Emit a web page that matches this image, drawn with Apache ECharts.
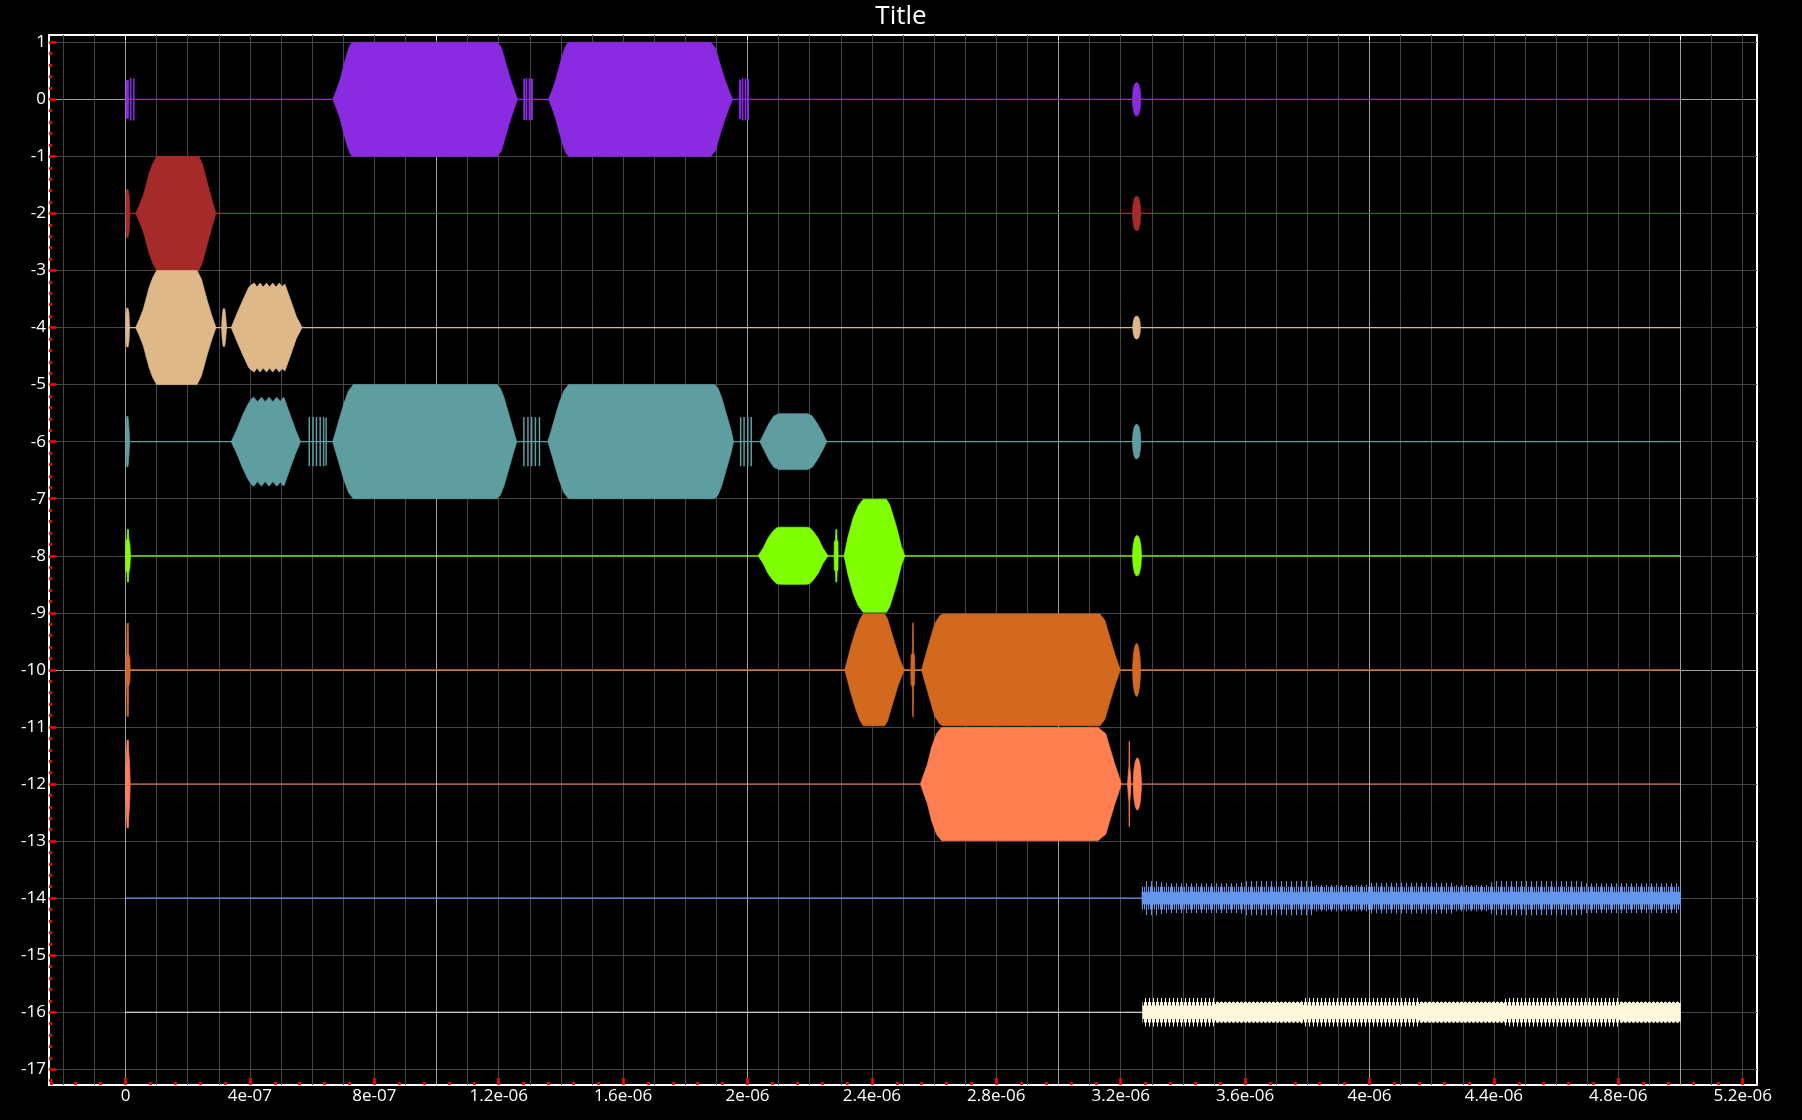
<!DOCTYPE html>
<html>
<head>
<meta charset="utf-8">
<script src="https://cdn.jsdelivr.net/npm/echarts@6/dist/echarts.min.js"></script>
<style>
html,body{margin:0;padding:0;background:#000;}
#chart{width:1802px;height:1120px;}
</style>
</head>
<body>
<div id="chart"></div>
<script>
// ---------------- DATA (x in microseconds, amplitudes in y units) ----------------
const xTickValues = [0, 0.4, 0.8, 1.2, 1.6, 2.0, 2.4, 2.8, 3.2, 3.6, 4.0, 4.4, 4.8, 5.2];
const xTickLabels = ['0', '4e-07', '8e-07', '1.2e-06', '1.6e-06', '2e-06', '2.4e-06', '2.8e-06', '3.2e-06', '3.6e-06', '4e-06', '4.4e-06', '4.8e-06', '5.2e-06'];
const yTickValues = [1, 0, -1, -2, -3, -4, -5, -6, -7, -8, -9, -10, -11, -12, -13, -14, -15, -16, -17];
const yTickLabels = ['1', '0', '-1', '-2', '-3', '-4', '-5', '-6', '-7', '-8', '-9', '-10', '-11', '-12', '-13', '-14', '-15', '-16', '-17'];
const xBrightLines = [0, 1, 2, 3, 4, 5];
const yBrightLines = [0, -10];

const traceNames = ['blueviolet', 'brown', 'burlywood', 'cadetblue', 'chartreuse', 'chocolate', 'coral', 'cornflowerblue', 'cornsilk'];
const traceColors = ['#8A2BE2', '#A52A2A', '#DEB887', '#5F9EA0', '#7FFF00', '#D2691E', '#FF7F50', '#6495ED', '#FFF8DC'];
const traceBaselines = [0, -2, -4, -6, -8, -10, -12, -14, -16];
const traceStart = 0;
const traceEnd = 5;

// envelopes of bursts: [x, amplitude] points
const purpleBursts = [
  [[0.001,0],[0.0015,0.33],[0.0095,0.33],[0.010,0]],
  [[0.6666,0],[0.678,0.16],[0.690,0.34],[0.703,0.62],[0.715,0.85],[0.723,0.96],[0.730,1.0],[1.1955,1.0],[1.209,0.9],[1.222,0.65],[1.239,0.34],[1.250,0.16],[1.261,0]],
  [[1.360,0],[1.372,0.16],[1.383,0.34],[1.397,0.62],[1.409,0.85],[1.418,0.96],[1.426,1.0],[1.882,1.0],[1.897,0.9],[1.910,0.65],[1.928,0.34],[1.940,0.16],[1.952,0]],
  [[1.973,0],[1.9735,0.34],[1.9785,0.34],[1.979,0]],
  [[3.2375,0],[3.2395,0.15],[3.2435,0.25],[3.2485,0.29],[3.254,0.29],[3.259,0.25],[3.263,0.15],[3.265,0]]
];
const purpleSpikes = [[0.017,0.37],[0.027,0.37],[1.2815,0.36],[1.2835,0.36],[1.2895,0.37],[1.2985,0.37],[1.3055,0.36],[1.3075,0.36],[1.9845,0.37],[1.9935,0.37],[2.0005,0.36],[2.0025,0.36]];

const brownBursts = [
  [[0.001,0],[0.002,0.3],[0.004,0.42],[0.008,0.42],[0.012,0.3],[0.014,0]],
  [[0.0327,0],[0.045,0.15],[0.0573,0.32],[0.0758,0.70],[0.088,0.88],[0.1003,1.0],[0.2357,1.0],[0.248,0.85],[0.2665,0.47],[0.280,0.2],[0.291,0]],
  [[3.2375,0],[3.2395,0.15],[3.2435,0.26],[3.2485,0.30],[3.254,0.30],[3.259,0.26],[3.263,0.15],[3.265,0]]
];

const burlywoodBursts = [
  [[0.001,0],[0.002,0.25],[0.004,0.34],[0.008,0.34],[0.011,0.25],[0.013,0]],
  [[0.0327,0],[0.045,0.15],[0.0573,0.32],[0.0758,0.70],[0.088,0.88],[0.1003,1.0],[0.230,1.0],[0.244,0.85],[0.263,0.47],[0.278,0.2],[0.291,0]],
  [[0.309,0],[0.311,0.2],[0.314,0.33],[0.319,0.33],[0.322,0.2],[0.325,0]],
  [[0.340,0],[0.3588,0.25],[0.3772,0.48],[0.3958,0.70],[0.405,0.75],[0.4141,0.78],[0.423,0.71],[0.4325,0.78],[0.443,0.71],[0.4534,0.78],[0.463,0.71],[0.4733,0.78],[0.484,0.71],[0.4942,0.78],[0.503,0.72],[0.5126,0.76],[0.531,0.48],[0.5495,0.19],[0.568,0]],
  [[3.2385,0],[3.2405,0.1],[3.244,0.17],[3.2485,0.2],[3.254,0.2],[3.2585,0.17],[3.262,0.1],[3.2635,0]]
];

const cadetblueBursts = [
  [[0.000,0],[0.0015,0.2],[0.004,0.44],[0.008,0.44],[0.0115,0.2],[0.013,0]],
  [[0.340,0],[0.3588,0.22],[0.3772,0.47],[0.394,0.66],[0.405,0.75],[0.4125,0.78],[0.4245,0.70],[0.437,0.78],[0.449,0.70],[0.4617,0.78],[0.474,0.70],[0.486,0.78],[0.498,0.71],[0.509,0.78],[0.532,0.43],[0.548,0.19],[0.563,0]],
  [[0.666,0],[0.676,0.18],[0.686,0.37],[0.7016,0.66],[0.717,0.89],[0.7325,1.0],[1.1936,1.0],[1.205,0.94],[1.2167,0.78],[1.2322,0.49],[1.2476,0.19],[1.258,0]],
  [[1.358,0],[1.368,0.18],[1.378,0.37],[1.3935,0.66],[1.409,0.89],[1.4245,1.0],[1.893,1.0],[1.905,0.94],[1.9165,0.78],[1.932,0.49],[1.9475,0.19],[1.955,0]],
  [[2.040,0],[2.055,0.17],[2.070,0.33],[2.085,0.45],[2.101,0.49],[2.193,0.49],[2.208,0.45],[2.223,0.33],[2.240,0.17],[2.255,0]],
  [[3.2375,0],[3.2395,0.15],[3.2435,0.26],[3.2485,0.30],[3.254,0.30],[3.259,0.26],[3.263,0.15],[3.265,0]]
];
const cadetblueSpikes = [[0.591,0.43],[0.603,0.43],[0.614,0.43],[0.626,0.43],[0.637,0.43],[0.645,0.42],[1.281,0.43],[1.294,0.43],[1.306,0.43],[1.318,0.43],[1.331,0.43],[1.978,0.43],[1.989,0.43],[2.001,0.43],[2.012,0.43]];

const chartreuseBursts = [
  [[0.001,0],[0.0015,0.25],[0.005,0.3],[0.006,0.46],[0.0095,0.46],[0.0105,0.3],[0.014,0.2],[0.016,0]],
  [[2.034,0],[2.050,0.13],[2.066,0.31],[2.082,0.43],[2.094,0.49],[2.104,0.50],[2.190,0.50],[2.200,0.49],[2.211,0.43],[2.227,0.31],[2.243,0.13],[2.259,0]],
  [[2.2785,0],[2.279,0.24],[2.283,0.28],[2.284,0.46],[2.287,0.46],[2.288,0.28],[2.291,0.24],[2.2914,0]],
  [[2.3106,0],[2.3235,0.34],[2.3396,0.66],[2.3556,0.87],[2.3717,0.99],[2.447,0.99],[2.4576,0.89],[2.479,0.51],[2.4952,0.16],[2.5058,0]],
  [[3.238,0],[3.240,0.18],[3.2445,0.3],[3.2495,0.35],[3.2555,0.35],[3.2605,0.3],[3.265,0.18],[3.267,0]]
];

const chocolateBursts = [
  [[0.001,0],[0.0015,0.2],[0.004,0.3],[0.005,0.81],[0.009,0.82],[0.010,0.3],[0.014,0.2],[0.015,0]],
  [[2.3129,0],[2.332,0.4],[2.348,0.69],[2.361,0.88],[2.372,0.98],[2.441,0.98],[2.450,0.9],[2.463,0.66],[2.484,0.28],[2.500,0.05],[2.506,0]],
  [[2.525,0],[2.526,0.25],[2.530,0.3],[2.531,0.8],[2.533,0.83],[2.534,0.3],[2.537,0.25],[2.538,0]],
  [[2.5595,0],[2.586,0.51],[2.602,0.81],[2.618,0.95],[2.629,0.98],[3.133,0.98],[3.149,0.87],[3.165,0.57],[3.181,0.28],[3.199,0]],
  [[3.238,0],[3.240,0.23],[3.244,0.39],[3.249,0.46],[3.2535,0.46],[3.258,0.39],[3.262,0.23],[3.264,0]]
];

const coralBursts = [
  [[0.001,0],[0.0015,0.3],[0.003,0.52],[0.005,0.77],[0.009,0.77],[0.011,0.52],[0.0135,0.3],[0.015,0]],
  [[2.556,0],[2.5787,0.35],[2.5916,0.64],[2.6077,0.88],[2.6238,0.99],[3.1274,0.99],[3.152,0.88],[3.165,0.64],[3.181,0.35],[3.2025,0]],
  [[3.222,0],[3.2245,0.2],[3.2265,0.3],[3.227,0.73],[3.2285,0.75],[3.229,0.3],[3.231,0.2],[3.233,0]],
  [[3.240,0],[3.242,0.22],[3.246,0.38],[3.251,0.45],[3.256,0.45],[3.261,0.38],[3.265,0.22],[3.267,0]]
];

// dense oscillation bands: tall-spike, mid-spike and solid-core envelopes
const cornflowerOuter = [[3.268,0.30],[3.328,0.30],[3.335,0.26],[3.585,0.26],[3.595,0.30],[3.815,0.30],[3.825,0.23],[3.99,0.23],[4.0,0.27],[4.265,0.27],[4.275,0.23],[4.385,0.23],[4.395,0.30],[4.68,0.30],[4.69,0.26],[5.0,0.26]];
const cornflowerMid = [[3.268,0.20],[5.0,0.20]];
const cornflowerCore = [[3.268,0.11],[5.0,0.11]];
const cornsilkOuter = [[3.27,0.25],[3.498,0.25],[3.51,0.19],[3.78,0.19],[3.79,0.25],[4.155,0.25],[4.165,0.19],[4.43,0.19],[4.44,0.25],[4.80,0.25],[4.81,0.19],[5.0,0.19]];
const cornsilkMid = [[3.27,0.18],[5.0,0.18]];
const cornsilkCore = [[3.27,0.12],[3.498,0.12],[3.51,0.16],[3.78,0.16],[3.79,0.12],[4.155,0.12],[4.165,0.16],[4.43,0.16],[4.44,0.12],[4.80,0.12],[4.81,0.16],[5.0,0.16]];

const traceBursts = [purpleBursts, brownBursts, burlywoodBursts, cadetblueBursts, chartreuseBursts, chocolateBursts, coralBursts, null, null];
const traceSpikes = [purpleSpikes, null, null, cadetblueSpikes, null, null, null, null, null];
const traceBands = [null, null, null, null, null, null, null, [cornflowerOuter, cornflowerMid, cornflowerCore], [cornsilkOuter, cornsilkMid, cornsilkCore]];

// ---------------- AXIS HELPERS ----------------
const X_MIN = -0.246, X_MAX = 5.246;
const Y_MIN = -17.275, Y_MAX = 1.127;
const xMinorTicks = [];
for (let i = -3; i <= 65; i++) if (i % 5 !== 0) xMinorTicks.push(Math.round(i * 0.08 * 1e6) / 1e6);
const xGridLines = [];
for (let i = -2; i <= 52; i++) xGridLines.push(Math.round(i * 0.1 * 1e6) / 1e6);
const yMinorTicks = [];
for (let i = -86; i <= 5; i++) if (i % 5 !== 0) yMinorTicks.push(Math.round(i * 0.2 * 1e6) / 1e6);

function lookup(values, labels) {
  return function (v) {
    for (let i = 0; i < values.length; i++) if (Math.abs(values[i] - v) < 1e-6) return labels[i];
    return '';
  };
}

const FONT = 'Open Sans';
const RED = '#ff0000';
const DIM = '#464646';
const BRIGHT = '#a0a0a0';

function baseX(extra) {
  return Object.assign({
    type: 'value', min: X_MIN, max: X_MAX, position: 'bottom',
    axisLine: { show: false, onZero: false },
    axisLabel: { show: false },
    axisTick: { show: false },
    splitLine: { show: false }
  }, extra);
}
function baseY(extra) {
  return Object.assign({
    type: 'value', min: Y_MIN, max: Y_MAX, position: 'left',
    axisLine: { show: false, onZero: false },
    axisLabel: { show: false },
    axisTick: { show: false },
    splitLine: { show: false }
  }, extra);
}

const xAxes = [
  baseX({
    axisTick: { show: true, inside: true, length: 7, customValues: xTickValues, lineStyle: { color: RED, width: 2.7 } },
    axisLabel: { show: true, customValues: xTickValues, formatter: lookup(xTickValues, xTickLabels), color: '#ffffff', fontSize: 17, fontFamily: FONT, margin: 3 }
  }),
  baseX({ axisTick: { show: true, inside: true, length: 3, customValues: xMinorTicks, lineStyle: { color: RED, width: 2.7 } } }),
  baseX({ axisTick: { show: false, customValues: xGridLines }, splitLine: { show: true, lineStyle: { color: DIM, width: 1 } } }),
  baseX({ position: 'top', axisTick: { show: true, inside: true, length: 5, customValues: xBrightLines, lineStyle: { color: '#ffffff', width: 1 } }, splitLine: { show: true, lineStyle: { color: BRIGHT, width: 1 } } })
];
const yAxes = [
  baseY({
    axisTick: { show: true, inside: true, length: 7, customValues: yTickValues, lineStyle: { color: RED, width: 2.7 } },
    axisLabel: { show: true, customValues: yTickValues, formatter: lookup(yTickValues, yTickLabels), color: '#ffffff', fontSize: 17, fontFamily: FONT, margin: 3 },
    splitLine: { show: true, lineStyle: { color: DIM, width: 1 } }
  }),
  baseY({ axisTick: { show: true, inside: true, length: 3.3, customValues: yMinorTicks, lineStyle: { color: RED, width: 2.7 } } }),
  baseY({ position: 'right', axisTick: { show: false, customValues: yBrightLines }, splitLine: { show: true, lineStyle: { color: BRIGHT, width: 1 } } })
];

// ---------------- RENDERERS ----------------
function burstRenderer(bursts, base, color) {
  return function (params, api) {
    const pts = bursts[params.dataIndex];
    const up = pts.map(p => api.coord([p[0], base + p[1]]));
    const dn = pts.slice().reverse().map(p => api.coord([p[0], base - p[1]]));
    return { type: 'polygon', shape: { points: up.concat(dn) }, style: { fill: color, stroke: color, lineWidth: 0.7 } };
  };
}
function spikeRenderer(spikes, base, color) {
  return function (params, api) {
    const s = spikes[params.dataIndex];
    const a = api.coord([s[0], base + s[1]]);
    const b = api.coord([s[0], base - s[1]]);
    return { type: 'line', shape: { x1: a[0], y1: a[1], x2: b[0], y2: b[1] }, style: { stroke: color, lineWidth: 1.5 } };
  };
}
function stripePattern(color, period, offset) {
  const c = document.createElement('canvas');
  c.width = period; c.height = 2;
  const ctx = c.getContext('2d');
  ctx.fillStyle = color;
  ctx.fillRect(offset, 0, 1, 2);
  return { image: c, repeat: 'repeat' };
}
function bandRenderer(band, base, color, tipPeriod, midPeriod) {
  const tipPattern = stripePattern(color, tipPeriod, 1);
  const midPattern = stripePattern(color, midPeriod, 0);
  return function (params, api) {
    const mk = env => {
      const up = env.map(p => api.coord([p[0], base + p[1]]));
      const dn = env.slice().reverse().map(p => api.coord([p[0], base - p[1]]));
      return up.concat(dn);
    };
    return {
      type: 'group',
      children: [
        { type: 'polygon', shape: { points: mk(band[0]) }, style: { fill: tipPattern } },
        { type: 'polygon', shape: { points: mk(band[1]) }, style: { fill: midPattern } },
        { type: 'polygon', shape: { points: mk(band[2]) }, style: { fill: color } }
      ]
    };
  };
}

// ---------------- SERIES ----------------
const series = [];
traceBaselines.forEach((base, k) => {
  const color = traceColors[k];
  series.push({
    name: traceNames[k], type: 'line', data: [[traceStart, base], [traceEnd, base]],
    symbol: 'none', silent: true, z: 2, lineStyle: { color: color, width: 1.2 }
  });
  if (traceBursts[k]) {
    series.push({
      type: 'custom', silent: true, z: 3,
      data: traceBursts[k].map(b => [b[0][0], base]),
      renderItem: burstRenderer(traceBursts[k], base, color)
    });
  }
  if (traceSpikes[k]) {
    series.push({
      type: 'custom', silent: true, z: 3,
      data: traceSpikes[k].map(s => [s[0], base]),
      renderItem: spikeRenderer(traceSpikes[k], base, color)
    });
  }
  if (traceBands[k]) {
    series.push({
      type: 'custom', silent: true, z: 3,
      data: [[traceBands[k][0][0][0], base]],
      renderItem: bandRenderer(traceBands[k], base, color, k === 7 ? 5 : 4, 2)
    });
  }
});

const chart = echarts.init(document.getElementById('chart'), null, { renderer: 'canvas' });
chart.setOption({
  backgroundColor: '#000000',
  animation: false,
  title: {
    text: 'Title', left: 'center', top: -1,
    textStyle: { color: '#ffffff', fontSize: 26, fontWeight: 'normal', fontFamily: FONT }
  },
  grid: { left: 49, right: 45, top: 35, bottom: 35, show: true, borderColor: '#ffffff', borderWidth: 2, backgroundColor: 'transparent' },
  xAxis: xAxes,
  yAxis: yAxes,
  series: series
});
</script>
</body>
</html>
